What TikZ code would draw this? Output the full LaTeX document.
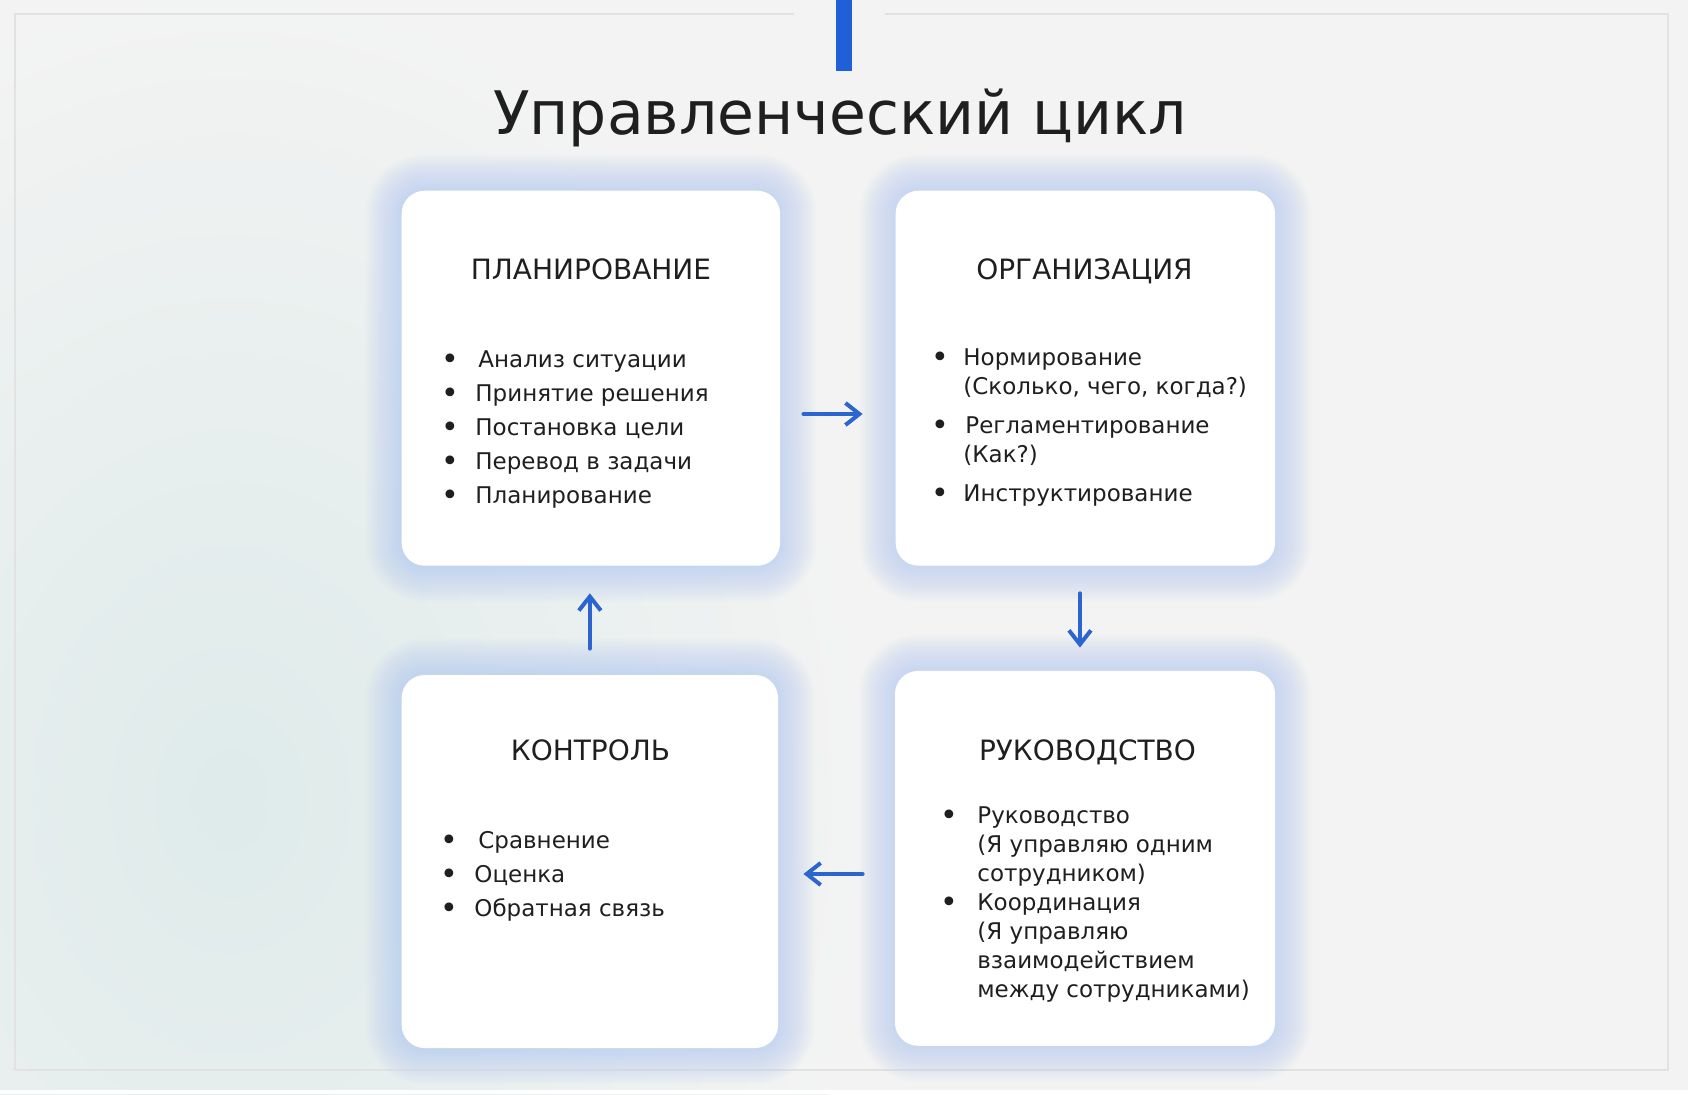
\documentclass[tikz,border=0pt]{standalone}
\usepackage{fontspec}
\setmainfont{DejaVu Sans}
\usetikzlibrary{arrows.meta,backgrounds}

\definecolor{bgc}{HTML}{F3F3F3}
\definecolor{tealc}{HTML}{DEEBEA}
\definecolor{framec}{HTML}{E2E2E2}
\definecolor{glowc}{HTML}{A9C4F0}
\definecolor{bluec}{HTML}{2C65CF}
\definecolor{barc}{HTML}{1F5FD7}
\definecolor{inkc}{HTML}{1F1F1F}

\newcommand{\blt}[1]{\llap{\makebox[#1][c]{\raisebox{-1.3pt}{\fontsize{15}{15}\selectfont •}}}}

\tikzset{
  card/.style={draw=none, fill=white, rounded corners=11.5pt, inner sep=0pt},
  head/.style={anchor=base, text=inkc, font=\fontsize{14}{17}\selectfont},
  list/.style={anchor=base west, text=inkc, inner sep=0pt},
  flow/.style={draw=bluec, line width=2pt, line cap=round, line join=round,
    -{Straight Barb[length=7pt,width=11pt]}}
}

\begin{document}
\begin{tikzpicture}[x=0.5pt, y=-0.5pt]
\useasboundingbox (0,0) rectangle (1688,1094);

% boxes
\node[card, minimum width=189.2pt, minimum height=187.5pt] (plan) at (590.85,378.2) {};
\node[card, minimum width=189.7pt, minimum height=187.5pt] (org) at (1085.35,378.2) {};
\node[card, minimum width=188.2pt, minimum height=186.5pt] (ctrl) at (589.85,861.5) {};
\node[card, minimum width=190pt, minimum height=187.4pt] (lead) at (1085,858.35) {};

% title
\fill[barc] (836,0) rectangle (852,71);
\node[anchor=base, text=inkc, font=\fontsize{30}{36}\selectfont] (title) at (840,134) {Управленческий цикл};

% headings
\node[head] (planhead) at (591,279) {ПЛАНИРОВАНИЕ};
\node[head] (orghead) at (1084.5,279) {ОРГАНИЗАЦИЯ};
\node[head] (ctrlhead) at (590.5,760) {КОНТРОЛЬ};
\node[head] (leadhead) at (1087.5,760) {РУКОВОДСТВО};

% lists
\node[list, font=\fontsize{11.5}{17}\selectfont] (planlist) at (475,367) {%
  \begin{tabular}[t]{@{}l@{}}
  \blt{25pt}\hspace{1.5pt}Анализ ситуации\\
  \blt{25pt}Принятие решения\\
  \blt{25pt}Постановка цели\\
  \blt{25pt}Перевод в задачи\\
  \blt{25pt}Планирование
  \end{tabular}};

\node[list, font=\fontsize{11.5}{14.5}\selectfont] (orglist) at (963,365) {%
  \begin{tabular}[t]{@{}l@{}}
  \blt{23pt}Нормирование\\
  (Сколько, чего, когда?)\\[5pt]
  \blt{23pt}\hspace{1pt}Регламентирование\\
  (Как?)\\[5pt]
  \blt{23pt}Инструктирование
  \end{tabular}};

\node[list, font=\fontsize{11.5}{17}\selectfont] (ctrllist) at (474,848) {%
  \begin{tabular}[t]{@{}l@{}}
  \blt{25pt}\hspace{2pt}Сравнение\\
  \blt{25pt}Оценка\\
  \blt{25pt}Обратная связь
  \end{tabular}};

\node[list, font=\fontsize{11.5}{14.5}\selectfont] (leadlist) at (977,823) {%
  \begin{tabular}[t]{@{}l@{}}
  \blt{28pt}Руководство\\
  (Я управляю одним\\
  сотрудником)\\
  \blt{28pt}Координация\\
  (Я управляю\\
  взаимодействием\\
  между сотрудниками)
  \end{tabular}};

% cycle arrows
\draw[flow, shorten <=11.5pt, shorten >=16.3pt] ([yshift=-17.9pt]plan.east) -- ([yshift=-17.9pt]plan.east -| org.west);
\draw[flow, shorten <=13.6pt, shorten >=11.5pt] ([xshift=-2.7pt]org.south) -- ([xshift=-2.7pt]org.south |- lead.north);
\draw[flow, shorten <=16pt, shorten >=12.5pt] ([yshift=-7.8pt]lead.west) -- ([yshift=-7.8pt]lead.west -| ctrl.east);
\draw[flow, shorten <=13pt, shorten >=13.6pt] (ctrl.north) -- (ctrl.north |- plan.south);

% page, frame and glow
\begin{scope}[on background layer]
\fill[bgc] (0,0) rectangle (1688,1094);
\shade[inner color=tealc, outer color=bgc] (230,800) ellipse (640 and 820);
\fill[white] (0,1090) rectangle (1688,1094);
\draw[framec, line width=1.2pt] (794,14) -- (15,14) -- (15,1070) -- (1668,1070) -- (1668,14) -- (885,14);
\foreach \b in {plan,org,ctrl,lead}{
  \foreach \g in {2,4,...,36}{
    \pgfmathsetmacro\rr{11.5+0.5*\g}
    \fill[glowc, opacity=0.035, rounded corners=\rr pt]
      ([shift={(-\g,-\g)}]\b.north west) rectangle ([shift={(\g,\g)}]\b.south east);
  }
}
\end{scope}
\end{tikzpicture}
\end{document}
